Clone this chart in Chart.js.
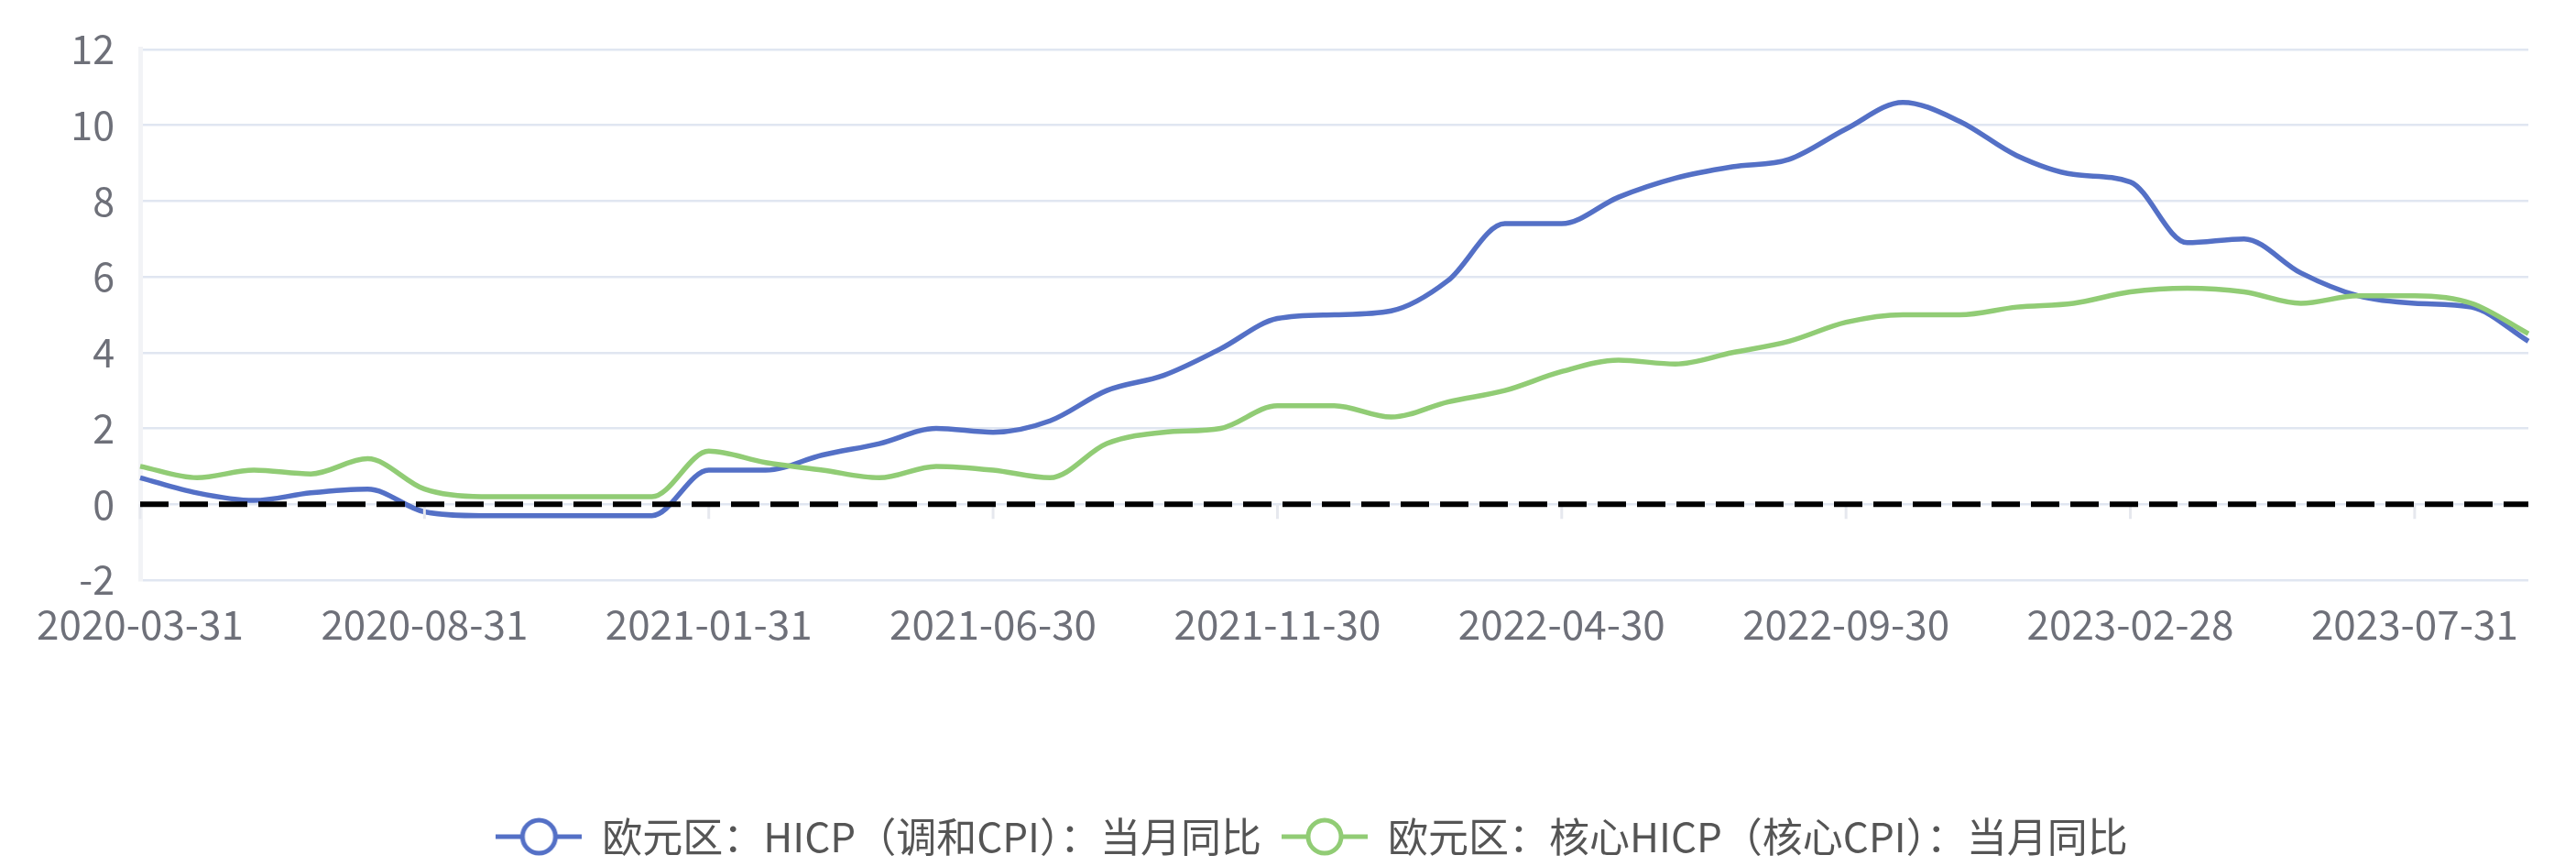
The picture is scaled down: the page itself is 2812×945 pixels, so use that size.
<!DOCTYPE html>
<html>
<head>
<meta charset="utf-8">
<script src="https://cdn.jsdelivr.net/npm/chart.js@4/dist/chart.umd.min.js"></script>
<style>
    html, body { margin: 0; padding: 0; background: #fff; }
    #wrap { width: 2812px; height: 945px; position: relative; }
</style>
</head>
<body>
<div id="wrap"><canvas id="cpiChart"></canvas></div>
<script>
const months = [
    '2020-03-31', '2020-04-30', '2020-05-31', '2020-06-30', '2020-07-31', '2020-08-31', '2020-09-30', '2020-10-31', '2020-11-30', '2020-12-31',
    '2021-01-31', '2021-02-28', '2021-03-31', '2021-04-30', '2021-05-31', '2021-06-30', '2021-07-31', '2021-08-31', '2021-09-30', '2021-10-31', '2021-11-30', '2021-12-31',
    '2022-01-31', '2022-02-28', '2022-03-31', '2022-04-30', '2022-05-31', '2022-06-30', '2022-07-31', '2022-08-31', '2022-09-30', '2022-10-31', '2022-11-30', '2022-12-31',
    '2023-01-31', '2023-02-28', '2023-03-31', '2023-04-30', '2023-05-31', '2023-06-30', '2023-07-31', '2023-08-31', '2023-09-30'
];
const hicp = [
    0.7, 0.3, 0.1, 0.3, 0.4, -0.2, -0.3, -0.3, -0.3, -0.3,
    0.9, 0.9, 1.3, 1.6, 2.0, 1.9, 2.2, 3.0, 3.4, 4.1, 4.9, 5.0,
    5.1, 5.9, 7.4, 7.4, 8.1, 8.6, 8.9, 9.1, 9.9, 10.6, 10.1, 9.2,
    8.7, 8.5, 6.9, 7.0, 6.1, 5.5, 5.3, 5.2, 4.3
];
const coreHicp = [
    1.0, 0.7, 0.9, 0.8, 1.2, 0.4, 0.2, 0.2, 0.2, 0.2,
    1.4, 1.1, 0.9, 0.7, 1.0, 0.9, 0.7, 1.6, 1.9, 2.0, 2.6, 2.6,
    2.3, 2.7, 3.0, 3.5, 3.8, 3.7, 4.0, 4.3, 4.8, 5.0, 5.0, 5.2,
    5.3, 5.6, 5.7, 5.6, 5.3, 5.5, 5.5, 5.3, 4.5
];
const seriesNames = ['欧元区：HICP（调和CPI）：当月同比', '欧元区：核心HICP（核心CPI）：当月同比'];
const seriesColors = ['#5470c6', '#91cc75'];
const yTicks = { min: -2, max: 12, step: 2 };
const labelStep = 5;

const FONT = '"Noto Sans CJK SC", "Noto Sans", sans-serif';

// legend marker: short line with a hollow circle, like echarts
function legendIcon(color) {
    var c = document.createElement('canvas');
    c.width = 94;
    c.height = 46;
    var g = c.getContext('2d');
    g.strokeStyle = color;
    g.lineWidth = 5;
    g.beginPath();
    g.moveTo(0, 23);
    g.lineTo(94, 23);
    g.stroke();
    g.fillStyle = '#fff';
    g.beginPath();
    g.arc(47, 23, 18, 0, Math.PI * 2);
    g.fill();
    g.stroke();
    return c;
}

// dashed zero line + short axis ticks under it
const zeroLine = {
    id: 'zeroLine',
    afterDatasetsDraw: function (chart) {
        var ctx = chart.ctx;
        var x = chart.scales.x;
        var y = chart.scales.y;
        var y0 = y.getPixelForValue(0);
        ctx.save();
        ctx.strokeStyle = '#e6e8ee';
        ctx.lineWidth = 3;
        for (var i = 0; i < months.length; i += labelStep) {
            var px = x.getPixelForValue(i);
            ctx.beginPath();
            ctx.moveTo(px, y0);
            ctx.lineTo(px, y0 + 16);
            ctx.stroke();
        }
        ctx.strokeStyle = '#000';
        ctx.lineWidth = 6;
        ctx.setLineDash([31, 12]);
        ctx.beginPath();
        ctx.moveTo(chart.chartArea.left, y0);
        ctx.lineTo(chart.chartArea.right, y0);
        ctx.stroke();
        ctx.restore();
    }
};

const dataForGraph = {
    labels: months,
    datasets: [
        {
            label: seriesNames[0],
            data: hicp,
            borderColor: seriesColors[0],
            backgroundColor: seriesColors[0],
            borderWidth: 5.5,
            pointRadius: 0,
            cubicInterpolationMode: 'monotone',
            order: 2,
            pointStyle: legendIcon(seriesColors[0]),
        },
        {
            label: seriesNames[1],
            data: coreHicp,
            borderColor: seriesColors[1],
            backgroundColor: seriesColors[1],
            borderWidth: 5.5,
            pointRadius: 0,
            cubicInterpolationMode: 'monotone',
            order: 1,
            pointStyle: legendIcon(seriesColors[1]),
        }
    ]
};

const config = {
    type: 'line',
    data: dataForGraph,
    plugins: [zeroLine],
    options: {
        responsive: true,
        maintainAspectRatio: false,
        animation: false,
        layout: {
            padding: { left: 52, right: 0, top: 32, bottom: 0 }
        },
        plugins: {
            tooltip: { enabled: false },
            legend: {
                position: 'bottom',
                labels: {
                    usePointStyle: true,
                    pointStyleWidth: 94,
                    boxHeight: 44,
                    padding: 22,
                    color: '#555',
                    font: { family: FONT, size: 44 },
                    sort: function (a, b) { return a.datasetIndex - b.datasetIndex; }
                }
            }
        },
        scales: {
            x: {
                offset: false,
                grid: { display: false, drawTicks: false },
                border: { display: false },
                afterFit: function (scale) { scale.height = 236; },
                ticks: {
                    autoSkip: false,
                    maxRotation: 0,
                    padding: 22,
                    color: '#6e7079',
                    font: { family: FONT, size: 44 },
                    callback: function (value, index) {
                        return index % labelStep === 0 ? months[index] : null;
                    }
                }
            },
            y: {
                min: yTicks.min,
                max: yTicks.max,
                afterFit: function (scale) { scale.width = 101; },
                border: { display: true, color: '#f2f3f6', width: 5 },
                grid: { color: '#e0e6f1', lineWidth: 2.5, drawTicks: false },
                ticks: {
                    stepSize: yTicks.step,
                    padding: 28,
                    color: '#6e7079',
                    font: { family: FONT, size: 43 }
                }
            },
            // empty right-hand spacer so the plot ends where the reference does
            spacer: {
                type: 'linear',
                position: 'right',
                display: true,
                grid: { display: false, drawTicks: false },
                border: { display: false },
                ticks: { display: false },
                afterFit: function (scale) { scale.width = 52; }
            }
        }
    }
};

let myChart = new Chart(document.getElementById('cpiChart'), config);
</script>
</body>
</html>
